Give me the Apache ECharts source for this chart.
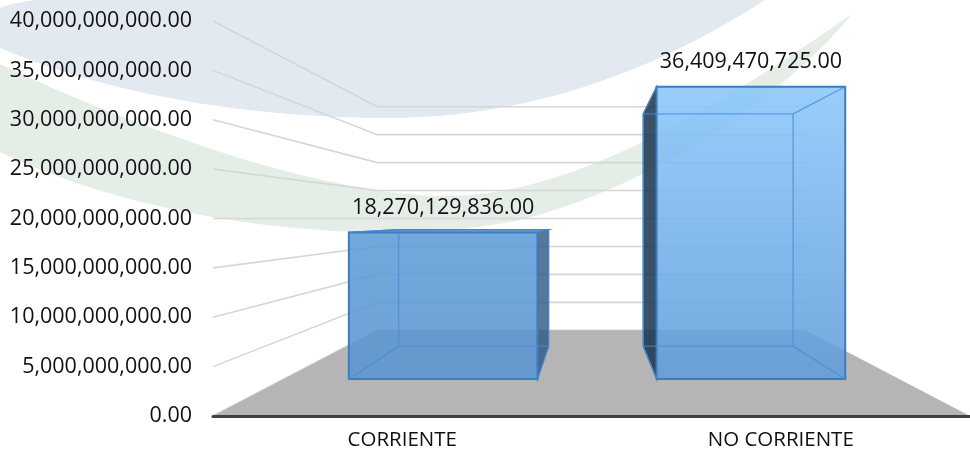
<!DOCTYPE html>
<html>
<head>
<meta charset="utf-8">
<script src="https://cdn.jsdelivr.net/npm/echarts@6/dist/echarts.min.js"></script>
<style>
html, body { margin: 0; padding: 0; background: #fff; }
#chart { width: 970px; height: 458px; }
</style>
</head>
<body>
<div id="chart"></div>
<script>
// data
var categories = ['CORRIENTE', 'NO CORRIENTE'];
var values = [18270129836.00, 36409470725.00];
var yTicks = [0, 5e9, 10e9, 15e9, 20e9, 25e9, 30e9, 35e9, 40e9];

// per-bar colours (front face gradient top/bottom, side face)
var frontTop = ['rgba(93,155,215,0.87)', 'rgba(138,198,250,0.87)'];
var frontBottom = ['rgba(90,148,208,0.87)', 'rgba(95,156,219,0.87)'];
var sideColors = ['rgba(45,85,130,0.8)', 'rgba(25,50,78,0.85)'];

// perspective: depth scale relative to the grid centre
var S_WALL = 0.566;
var S_BAR_FRONT = 0.813;
var S_BAR_BACK = 0.646;
var BAR_W = 0.613;
var BAR_SHIFT = 0.018;

function fmt(v) {
    return v.toLocaleString('en-US', { minimumFractionDigits: 2, maximumFractionDigits: 2 });
}

function vanish(cs) {
    return [cs.x + cs.width / 2, cs.y + cs.height / 2];
}

function project(pt, s, v) {
    return [v[0] + s * (pt[0] - v[0]), v[1] + s * (pt[1] - v[1])];
}

// background swooshes: chain of cubic segments -> polygon points
function swoosh(start, segs) {
    var pts = [start];
    var p0 = start;
    segs.forEach(function (s) {
        for (var k = 1; k <= 24; k++) {
            var t = k / 24, u = 1 - t;
            pts.push([
                u * u * u * p0[0] + 3 * u * u * t * s[0][0] + 3 * u * t * t * s[1][0] + t * t * t * s[2][0],
                u * u * u * p0[1] + 3 * u * u * t * s[0][1] + 3 * u * t * t * s[1][1] + t * t * t * s[2][1]
            ]);
        }
        p0 = s[2];
    });
    return pts;
}

var bluePts = swoosh([37, 0], [
    [[300, 0], [600, 0], [765, 0]],
    [[650, 75], [520, 118], [390, 118]],
    [[250, 118], [110, 95], [0, 48]],
    [[0, 30], [0, 15], [0, 8]],
    [[10, 4], [25, 1], [37, 0]]
]);
var greenPts = swoosh([0, 64], [
    [[150, 135], [350, 205], [470, 195]],
    [[600, 185], [750, 85], [852, 14]],
    [[790, 90], [660, 185], [520, 220]],
    [[380, 250], [150, 225], [0, 152]]
]);

function renderGrid(params, api) {
    var cs = params.coordSys;
    var v = vanish(cs);
    var y = api.coord([0, api.value(1)])[1];
    var x0 = cs.x, x1 = cs.x + cs.width;
    return {
        type: 'polyline',
        shape: { points: [[x0, y], project([x0, y], S_WALL, v), project([x1, y], S_WALL, v)] },
        style: { stroke: '#d6d6d6', lineWidth: 1.6, fill: null }
    };
}

function renderFloor(params, api) {
    var cs = params.coordSys;
    var v = vanish(cs);
    var y = api.coord([0, 0])[1];
    var x0 = cs.x, x1 = cs.x + cs.width;
    return {
        type: 'polygon',
        shape: { points: [[x0, y], [x1, y], project([x1, y], S_WALL, v), project([x0, y], S_WALL, v)] },
        style: { fill: '#b5b5b5' }
    };
}

function renderBar(params, api) {
    var cs = params.coordSys;
    var v = vanish(cs);
    var i = api.value(0);
    var val = api.value(1);
    var base = api.coord([i, 0]);
    var top = api.coord([i, val]);
    var band = api.size([1, 0])[0];
    var cx = base[0] + band * BAR_SHIFT;
    var half = band * BAR_W / 2;
    var xl = cx - half, xr = cx + half;
    var f = function (x, y) { return project([x, y], S_BAR_FRONT, v); };
    var b = function (x, y) { return project([x, y], S_BAR_BACK, v); };
    var fTL = f(xl, top[1]), fTR = f(xr, top[1]), fBR = f(xr, base[1]), fBL = f(xl, base[1]);
    var bTL = b(xl, top[1]), bTR = b(xr, top[1]), bBR = b(xr, base[1]), bBL = b(xl, base[1]);

    var children = [];
    var side = cx < v[0] ? [fTR, bTR, bBR, fBR] : [fTL, bTL, bBL, fBL];
    children.push({
        type: 'polygon', shape: { points: side },
        style: { fill: sideColors[i], stroke: '#3a78b8', lineWidth: 1.2 }
    });
    if (top[1] > v[1]) {
        children.push({
            type: 'polygon', shape: { points: [fTL, fTR, bTR, bTL] },
            style: { fill: frontTop[i], stroke: '#3a78b8', lineWidth: 1.2 }
        });
    }
    children.push({
        type: 'polygon', shape: { points: [fTL, fTR, fBR, fBL] },
        style: {
            fill: new echarts.graphic.LinearGradient(0, 0, 0, 1, [
                { offset: 0, color: frontTop[i] },
                { offset: 1, color: frontBottom[i] }
            ]),
            stroke: '#3c7cc0', lineWidth: 2
        }
    });
    // edges seen through the translucent front
    var edge = { stroke: 'rgba(70,140,215,0.75)', lineWidth: 1.3, fill: null };
    children.push({ type: 'polygon', shape: { points: [bTL, bTR, bBR, bBL] }, style: edge });
    [[fTL, bTL], [fTR, bTR], [fBR, bBR], [fBL, bBL]].forEach(function (p) {
        children.push({ type: 'line', shape: { x1: p[0][0], y1: p[0][1], x2: p[1][0], y2: p[1][1] }, style: edge });
    });
    children.push({
        type: 'text',
        style: {
            text: fmt(val), x: (fTL[0] + fTR[0]) / 2, y: fTL[1] - 25,
            align: 'center', verticalAlign: 'middle',
            fontSize: 21.5, fontFamily: 'Open Sans', fill: '#111'
        }
    });
    return { type: 'group', children: children };
}

var chart = echarts.init(document.getElementById('chart'));

chart.setOption({
    animation: false,
    backgroundColor: '#fff',
    graphic: [
        { type: 'polygon', z: -10, silent: true, shape: { points: bluePts }, style: { fill: '#e3e9f1' } },
        { type: 'polygon', z: -10, silent: true, shape: { points: greenPts }, style: { fill: '#e4eee7' } }
    ],
    grid: { left: 213, top: 21, width: 766, height: 395 },
    xAxis: {
        type: 'category',
        data: categories,
        z: 5,
        axisLine: { lineStyle: { color: '#404040', width: 3 } },
        axisTick: { show: false },
        axisLabel: { margin: 14, fontSize: 20.5, fontFamily: 'Open Sans', color: '#111' },
        splitLine: { show: false }
    },
    yAxis: {
        type: 'value',
        min: 0,
        max: 40e9,
        interval: 5e9,
        axisLine: { show: false },
        axisTick: { show: false },
        splitLine: { show: false },
        axisLabel: { margin: 21, fontSize: 21.5, fontFamily: 'Open Sans', color: '#111', formatter: fmt }
    },
    series: [
        {
            type: 'custom', z: 1, clip: false, silent: true,
            renderItem: renderGrid,
            data: yTicks.map(function (t) { return [0, t]; })
        },
        {
            type: 'custom', z: 2, clip: false, silent: true,
            renderItem: renderFloor,
            data: [[0, 0]]
        },
        {
            type: 'custom', z: 3, clip: false,
            renderItem: renderBar,
            data: values.map(function (v, i) { return [i, v]; })
        }
    ]
});
</script>
</body>
</html>
